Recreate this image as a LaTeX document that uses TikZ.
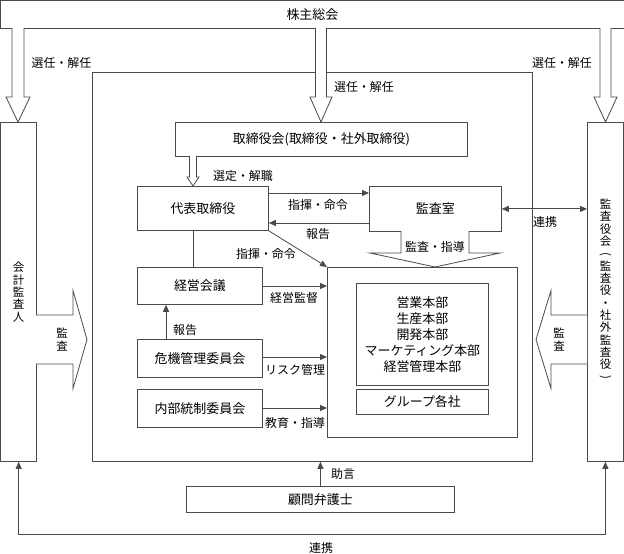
\documentclass[tikz,border=0pt]{standalone}
\usepackage{fontspec}
\setmainfont{Noto Sans CJK JP}
\usetikzlibrary{arrows.meta}
\definecolor{lc}{HTML}{4A4A4A}
\newcommand{\vparL}{\rotatebox[origin=c]{-90}{(}}
\newcommand{\vparR}{\rotatebox[origin=c]{-90}{)}}
\begin{document}
\setlength{\lineskiplimit}{-20pt}
\begin{tikzpicture}[x=1bp,y=-1bp,
  box/.style={draw=lc, line width=0.8bp, fill=white, inner sep=0pt, anchor=north west, font=\fontsize{13}{15}\selectfont},
  arr/.style={draw=lc, line width=0.8bp, -{Triangle[length=7bp,width=6bp]}},
  dblarr/.style={draw=lc, line width=0.8bp, {Triangle[length=7bp,width=6bp]}-{Triangle[length=7bp,width=6bp]}},
  plain/.style={draw=lc, line width=0.8bp},
  lab/.style={font=\fontsize{12}{14}\selectfont, inner sep=0pt},
  vlab/.style={font=\fontsize{11.5}{12.4}\selectfont, inner sep=0pt, align=center},
  hollow/.style={draw=lc, line width=0.8bp, fill=white}]
\useasboundingbox (0,0) rectangle (624,554);

% outer frame boxes
\node[box, minimum width=623bp, minimum height=27.5bp] (sh) at (0.5,0.5) {株主総会};
\node[box, minimum width=35.5bp, minimum height=339bp] (kaikei) at (0.5,122) {};
\node[box, minimum width=36bp, minimum height=339bp] (kansayaku) at (587,122) {};
\node[box, minimum width=440bp, minimum height=389bp] (company) at (92,72) {};

% hollow arrows from shareholders
\draw[hollow] (12,28) -- (12,97) -- (6,97) -- (18,122) -- (30,97) -- (24,97) -- (24,28);
\draw[hollow] (315.5,28) -- (315.5,97) -- (310,97) -- (321,122) -- (332,97) -- (326.5,97) -- (326.5,28);
\draw[hollow] (600,28) -- (600,97) -- (594,97) -- (605.5,122) -- (617,97) -- (611,97) -- (611,28);
\node[lab] at (61.5,63) {選任・解任};
\node[lab] at (364,87) {選任・解任};
\node[lab] at (562,63) {選任・解任};

% vertical texts
\node[vlab] at (18.5,292) {会\\計\\監\\査\\人};
\node[vlab] at (605.5,290) {監\\査\\役\\会\\\vparL\\監\\査\\役\\・\\社\\外\\監\\査\\役\\\vparR};

% inner boxes
\node[box, minimum width=292bp, minimum height=34bp] (tori) at (175,122) {取締役会(取締役・社外取締役)};
\node[box, minimum width=131bp, minimum height=44bp] (daihyo) at (137,186) {代表取締役};
\node[box, minimum width=132bp, minimum height=45bp] (kansashitsu) at (369,186) {監査室};
\node[box, minimum width=125bp, minimum height=37bp] (keiei) at (137,267) {経営会議};
\node[box, minimum width=125bp, minimum height=38bp] (kiki) at (137,339) {危機管理委員会};
\node[box, minimum width=125bp, minimum height=38bp] (naibu) at (137,389) {内部統制委員会};
\node[box, minimum width=190bp, minimum height=170bp] (ops) at (327,267) {};
\node[box, minimum width=132bp, minimum height=102bp, align=center,
      font=\fontsize{13}{16}\selectfont] (honbu) at (356,283)
      {営業本部\\生産本部\\開発本部\\マーケティング本部\\経営管理本部};
\node[box, minimum width=132bp, minimum height=25bp] (group) at (356,389) {グループ各社};
\node[box, minimum width=268bp, minimum height=26bp] (komon) at (186,486) {顧問弁護士};

% 取締役会 -> 代表取締役
\draw[hollow] (189.5,156) -- (189.5,177) -- (187,177) -- (193,186) -- (199,177) -- (196.5,177) -- (196.5,156);
\node[lab] at (243,176) {選定・解職};

% 代表取締役 <-> 監査室
\draw[arr] (daihyo.east |- 0,193) -- (kansashitsu.west |- 0,193);
\node[lab] at (318,205) {指揮・命令};
\draw[arr] (kansashitsu.west |- 0,223) -- (daihyo.east |- 0,223);
\node[lab] at (318,234) {報告};

% diagonal
\draw[arr] (daihyo.south east) -- (ops.north west);
\node[lab] at (266,254) {指揮・命令};

% 代表取締役 - 経営会議
\draw[plain] (daihyo.south -| 193,0) -- (keiei.north -| 193,0);

% 監査・指導
\draw[hollow] (401,231) -- (401,253) -- (370,253) -- (435,267) -- (500,253) -- (469,253) -- (469,231);
\node[lab, fill=white, inner sep=1pt] at (435,247) {監査・指導};

% committees to ops
\draw[arr] (keiei.east |- 0,286) -- (ops.west |- 0,286);
\node[lab, anchor=west] at (270,298) {経営監督};
\draw[arr] (kiki.north -| 166,0) -- (keiei.south -| 166,0);
\node[lab, anchor=west] at (173,330) {報告};
\draw[arr] (kiki.east |- 0,357) -- (ops.west |- 0,357);
\node[lab, anchor=west] at (265,370) {リスク管理};
\draw[arr] (naibu.east |- 0,408) -- (ops.west |- 0,408);
\node[lab, anchor=west] at (265,423) {教育・指導};

% 連携 (監査室 - 監査役会)
\draw[dblarr] (kansashitsu.east) -- (kansashitsu.east -| kansayaku.west);
\node[lab] at (545,222) {連携};

% 監査 hollow arrows
\draw[hollow] (36,315) -- (73,315) -- (73,290.5) -- (87,339.5) -- (73,388.5) -- (73,364) -- (36,364);
\node[vlab] at (62,339.5) {監\\査};
\draw[hollow] (587,315) -- (551,315) -- (551,290.5) -- (536,339.5) -- (551,388.5) -- (551,364) -- (587,364);
\node[vlab] at (559,339.5) {監\\査};

% 助言
\draw[arr] (komon.north) -- (komon.north |- company.south);
\node[lab] at (343,474) {助言};

% bottom 連携
\coordinate (bl) at (18.25,534);
\coordinate (br) at (605,534);
\draw[dblarr] (kaikei.south) -- (kaikei.south |- bl) -- (kansayaku.south |- br) -- (kansayaku.south);
\node[lab] at (321,548) {連携};
\end{tikzpicture}
\end{document}
